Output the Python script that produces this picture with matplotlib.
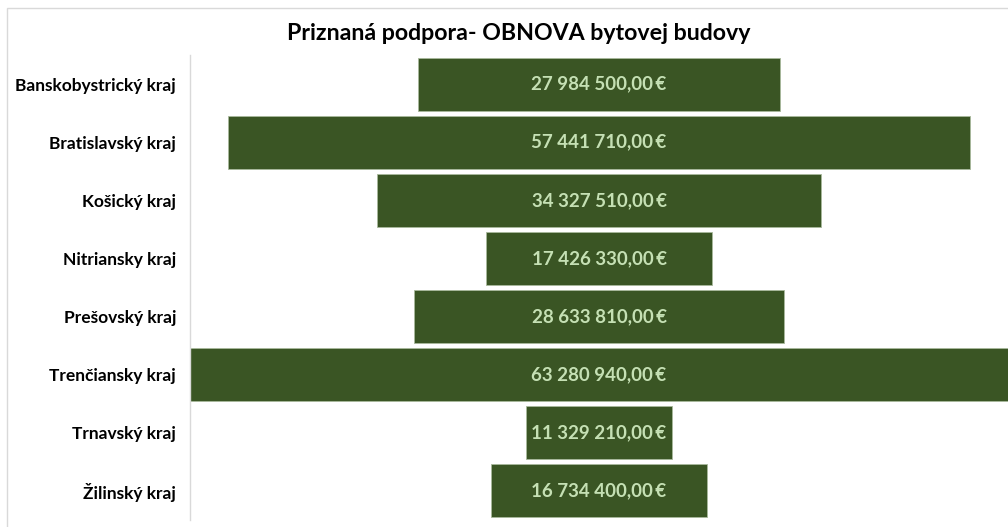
import matplotlib.pyplot as plt
from matplotlib.patches import Rectangle

regions = [
    "Banskobystrický kraj",
    "Bratislavský kraj",
    "Košický kraj",
    "Nitriansky kraj",
    "Prešovský kraj",
    "Trenčiansky kraj",
    "Trnavský kraj",
    "Žilinský kraj",
]
support = [27984500.00, 57441710.00, 34327510.00, 17426330.00,
           28633810.00, 63280940.00, 11329210.00, 16734400.00]

BAR = "#3a5524"
TXT = "#c5e0b4"


def fmt_eur(v):
    s = f"{v:,.2f}"
    s = s.replace(",", " ").replace(".", ",")
    return s + "\u2009€"


plt.rcParams["font.family"] = ["Lato", "DejaVu Sans"]

fig = plt.figure(figsize=(10.08, 5.27), dpi=100)
fig.patches.append(Rectangle((7 / 1008, -0.1), 1.2, (527 - 8) / 527 + 0.1,
                             transform=fig.transFigure, fill=False,
                             edgecolor="#d9d9d9", linewidth=1))

ax = fig.add_axes([190 / 1008, 7 / 527, 818 / 1008, (520 - 55) / 527])

ypos = list(range(len(regions)))
lefts = [-v / 2 for v in support]
ax.barh(ypos, support, left=lefts, height=0.91, color=BAR,
        edgecolor="#a9b99c", linewidth=0.6)

for y, v in zip(ypos, support):
    ax.text(0, y, fmt_eur(v), ha="center", va="center", color=TXT,
            fontsize=13.5, fontweight="bold")

m = max(support)
ax.set_xlim(-m / 2, m / 2)
ax.set_ylim(len(regions) - 0.5, -0.5)
ax.set_yticks(ypos)
ax.set_yticklabels(regions, fontsize=12.5, fontweight="bold")
ax.tick_params(axis="y", length=0, pad=10)
ax.set_xticks([])
for s in ["top", "right", "bottom"]:
    ax.spines[s].set_visible(False)
ax.spines["left"].set_color("#d9d9d9")
ax.spines["left"].set_linewidth(1)

fig.text(519 / 1008, 1 - 33 / 527, "Priznaná podpora- OBNOVA bytovej budovy",
         ha="center", va="center", fontsize=16.7, fontweight="bold")

fig.savefig("out.png", dpi=100)
